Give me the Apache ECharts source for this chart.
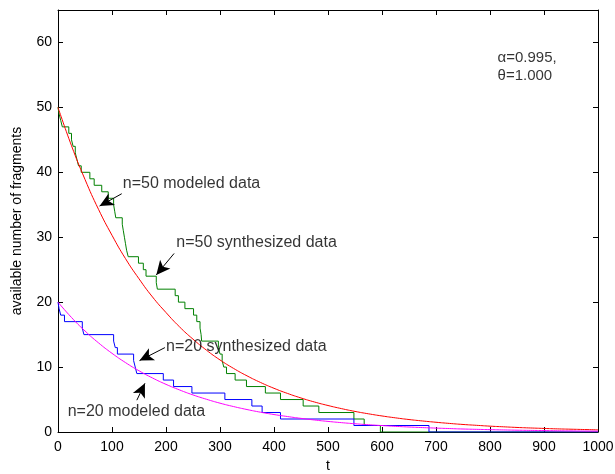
<!DOCTYPE html>
<html>
<head>
<meta charset="utf-8">
<script src="https://cdn.jsdelivr.net/npm/echarts@6/dist/echarts.min.js"></script>
<style>
html,body{margin:0;padding:0;background:#fff}
#chart{width:615px;height:474px}
</style>
</head>
<body>
<div id="chart"></div>
<script>
// modeled curves (every 25 time units)
var modelT  = [0,25,50,75,100,125,150,175,200,225,250,275,300,325,350,375,400,425,450,475,500,
               525,550,575,600,625,650,675,700,725,750,775,800,825,850,875,900,925,950,975,1000];
var model50 = [50,44.1,38.9,34.3,30.3,26.7,23.6,20.8,18.4,16.2,14.3,12.6,11.1,9.8,8.65,7.63,6.73,5.94,5.24,4.62,4.08,
               3.6,3.17,2.8,2.47,2.18,1.92,1.7,1.5,1.32,1.16,1.03,0.9,0.8,0.7,0.62,0.55,0.48,0.43,0.38,0.33];
var model20 = [20,17.64,15.56,13.73,12.12,10.69,9.43,8.32,7.34,6.48,5.71,5.04,4.44,3.92,3.46,3.05,2.69,2.38,2.1,1.85,1.63,
               1.44,1.27,1.12,0.99,0.87,0.77,0.68,0.6,0.53,0.46,0.41,0.36,0.32,0.28,0.25,0.22,0.19,0.17,0.15,0.13];

// synthesized data: time where the count changes, and the new count
var synth50T = [0,2,5,8,20,25,28,32,35,38,43,59,67,81,93,103,105,107,119,121,123,125,127,130,149,158,163,182,184,
                217,223,235,251,257,263,265,266,297,300,304,307,312,328,349,384,412,454,483,548,567,597,1000];
var synth50N = [50,49,48,47,46,45,44,43,42,41,40,39,38,37,36,35,34,33,32,31,30,29,28,27,26,25,24,23,22,
                21,20,19,18,17,16,15,14,13,12,11,10,9,8,7,6,5,4,3,2,1,0,0];
var synth20T = [0,2,5,12,45,48,103,106,110,140,143,146,195,214,248,309,359,378,412,548,687,1000];
var synth20N = [20,19,18,17,16,15,14,13,12,11,10,9,8,7,6,5,4,3,2,1,0,0];

// axis ticks
var xTicks = [0,100,200,300,400,500,600,700,800,900,1000];
var yTicks = [0,10,20,30,40,50,60];

// annotations: text, anchor (left edge, middle), arrow tail -> tip
var noteText = ['n=50 modeled data','n=50 synthesized data','n=20 synthesized data','n=20 modeled data','\u03b1=0.995,','\u03b8=1.000'];
var noteT = [120,219,200,18,814,814];
var noteV = [38.3,29.1,13.1,3.1,57.7,54.9];
var arrowFrom = [[118,36.7],[215,27.5],[198,13],[146,4.9]];
var arrowTo   = [[77,34.8],[182,24.2],[151,11],[161,7.5]];

function pairs(a, b){
    var out = [];
    for (var i = 0; i < a.length; i++) out.push([a[i], b[i]]);
    return out;
}

var myChart = echarts.init(document.getElementById('chart'), null, {renderer: 'canvas'});

var font = 'Liberation Sans, Arial, Helvetica, sans-serif';

function xAxisOf(pos){
    return {
        type: 'value', position: pos,
        min: 0, max: 1000, interval: 100,
        axisLine: {show: true, onZero: false, lineStyle: {color: '#000', width: 1}},
        axisTick: {show: true, inside: true, length: 5, lineStyle: {color: '#000'}},
        axisLabel: {show: pos === 'bottom', color: '#000', fontFamily: font, fontSize: 14, margin: 8,
            formatter: function(v){ return xTicks.indexOf(v) >= 0 ? String(v) : ''; }},
        splitLine: {show: false},
        name: pos === 'bottom' ? 't' : '',
        nameLocation: 'middle', nameGap: 27,
        nameTextStyle: {color: '#000', fontFamily: font, fontSize: 14}
    };
}
function yAxisOf(pos){
    return {
        type: 'value', position: pos,
        min: 0, max: 65, interval: 10,
        axisLine: {show: true, onZero: false, lineStyle: {color: '#000', width: 1}},
        axisTick: {show: true, inside: true, length: 5, lineStyle: {color: '#000'}},
        axisLabel: {show: pos === 'left', color: '#000', fontFamily: font, fontSize: 14, margin: 6,
            formatter: function(v){ return yTicks.indexOf(v) >= 0 ? String(v) : ''; }},
        splitLine: {show: false},
        name: pos === 'left' ? 'available number of fragments' : '',
        nameLocation: 'middle', nameGap: 34,
        nameTextStyle: {color: '#000', fontFamily: font, fontSize: 14}
    };
}

var notes = [];
for (var i = 0; i < noteText.length; i++) {
    notes.push({value: [noteT[i], noteV[i]], name: noteText[i],
                label: {fontSize: i < 4 ? 16 : 15}});
}
var arrows = [];
for (var j = 0; j < arrowFrom.length; j++) arrows.push([{coord: arrowFrom[j]}, {coord: arrowTo[j]}]);

var option = {
    animation: false,
    backgroundColor: '#fff',
    grid: {left: 58, right: 17, top: 10, bottom: 42, containLabel: false, outerBoundsMode: 'none'},
    xAxis: [xAxisOf('bottom'), xAxisOf('top')],
    yAxis: [yAxisOf('left'), yAxisOf('right')],
    series: [
        {name: 'n=50 synthesized', type: 'line', step: 'end', data: pairs(synth50T, synth50N),
         showSymbol: false, lineStyle: {color: '#008000', width: 1}, z: 2},
        {name: 'n=20 synthesized', type: 'line', step: 'end', data: pairs(synth20T, synth20N),
         showSymbol: false, lineStyle: {color: '#0000ff', width: 1}, z: 2},
        {name: 'n=50 modeled', type: 'line', smooth: true, data: pairs(modelT, model50),
         showSymbol: false, lineStyle: {color: '#ff0000', width: 1}, z: 3},
        {name: 'n=20 modeled', type: 'line', smooth: true, data: pairs(modelT, model20),
         showSymbol: false, lineStyle: {color: '#ff00ff', width: 1}, z: 3},
        {name: 'notes', type: 'scatter', data: notes, symbolSize: 0, z: 5,
         label: {show: true, position: 'right', distance: 0, formatter: '{b}',
                 color: '#000', fontFamily: font, fontSize: 16},
         markLine: {
             silent: true, symbol: ['none', 'arrow'], symbolSize: [10, 14],
             label: {show: false},
             lineStyle: {color: '#000', width: 1, type: 'solid'},
             data: arrows
         }}
    ]
};

myChart.setOption(option);
</script>
</body>
</html>
